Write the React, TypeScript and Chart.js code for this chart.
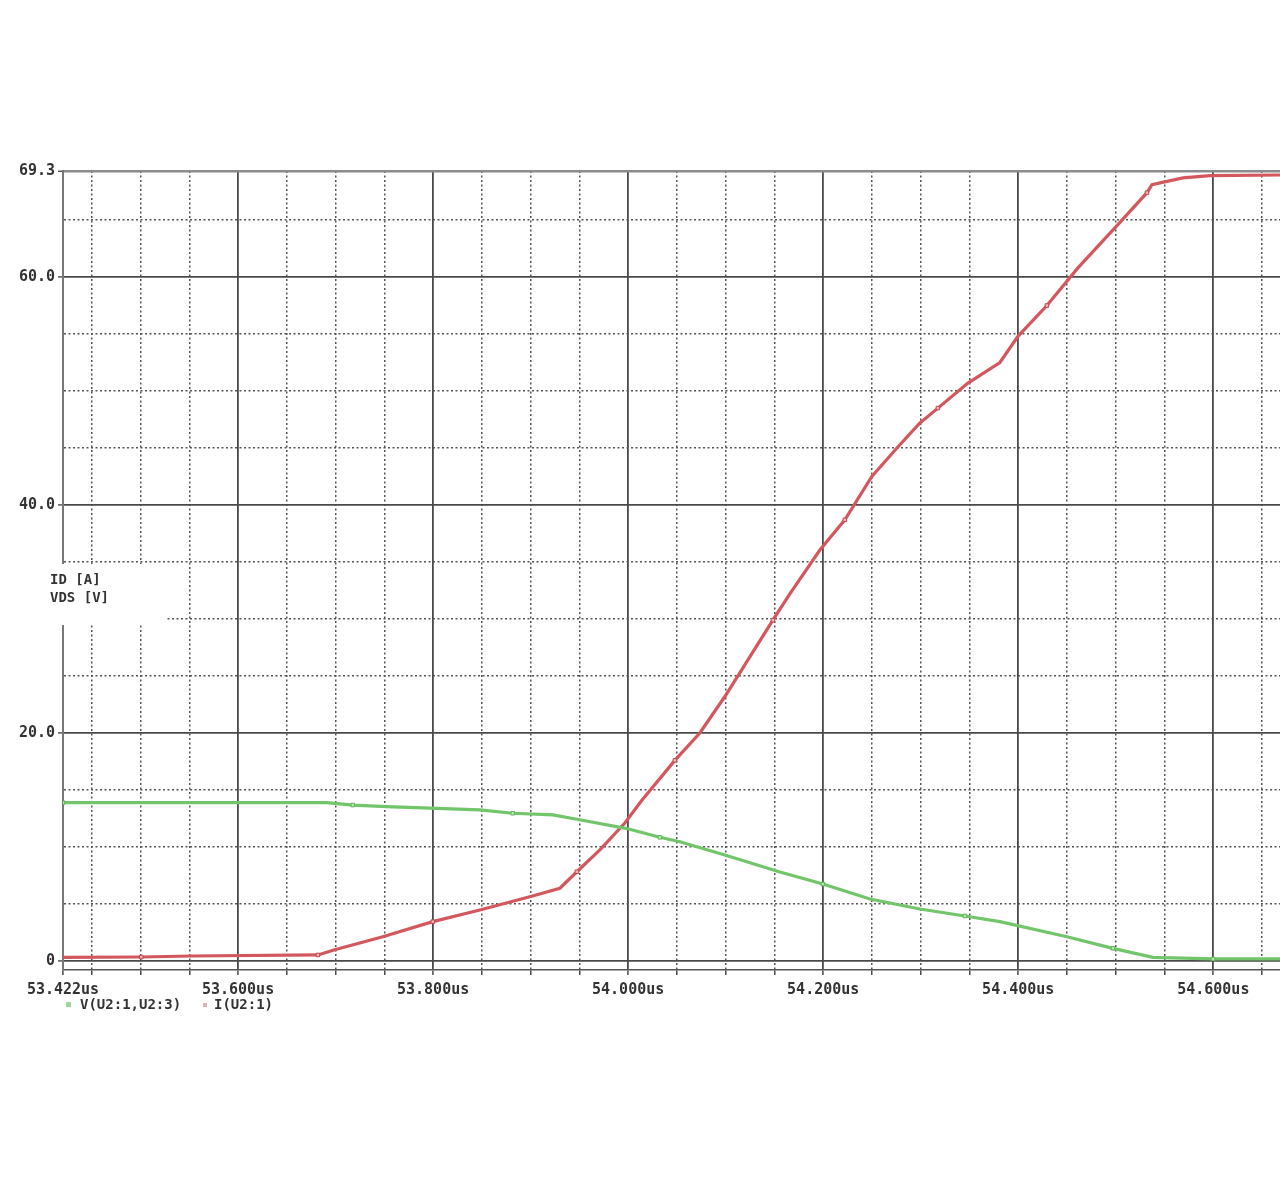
import { useEffect, useRef } from 'react';
import { Chart, registerables } from 'chart.js';

Chart.register(...registerables);

// ---- axis ranges ----
const X_MIN = 53.4205;
const X_MAX = 54.6684;
const Y_MIN = -0.79;
const Y_MAX = 69.3;

// ---- tick values / labels ----
const X_START_LABEL = '53.422us';
const X_MAJOR_TICKS = [53.6, 53.8, 54.0, 54.2, 54.4, 54.6];
const X_TICK_LABELS = ['53.600us', '53.800us', '54.000us', '54.200us', '54.400us', '54.600us'];
const X_MINOR_TICKS = [53.45, 53.5, 53.55, 53.65, 53.7, 53.75, 53.85, 53.9, 53.95, 54.05, 54.1, 54.15, 54.25, 54.3, 54.35, 54.45, 54.5, 54.55, 54.65];

const Y_MAJOR_TICKS = [0, 20, 40, 60, 69.3];
const Y_TICK_LABELS = ['0', '20.0', '40.0', '60.0', '69.3'];
const Y_MINOR_TICKS = [5, 10, 15, 25, 30, 35, 45, 50, 55, 65];

const AXIS_LABEL_LINES = ['ID [A]', 'VDS [V]'];
const SERIES_NAMES = ['V(U2:1,U2:3)', 'I(U2:1)'];

// ---- series: I(U2:1) (drain current) ----
const I_TIME = [
  53.4205, 53.5008, 53.5521, 53.6819, 53.6983, 53.7484, 53.7997, 53.8479, 53.8992, 53.93,
  53.9474, 53.971, 53.9966, 54.0141, 54.0479, 54.0735, 54.0992, 54.1484, 54.1658, 54.1966,
  54.2222, 54.2499, 54.2756, 54.2992, 54.3176, 54.3484, 54.3812, 54.3997, 54.4294, 54.4612,
  54.5043, 54.532, 54.5371, 54.5689, 54.5966, 54.6684,
];
const I_VALUES = [
  0.31, 0.35, 0.44, 0.53, 0.96, 2.13, 3.45, 4.47, 5.64, 6.38,
  7.83, 9.74, 12.1, 14.1, 17.6, 20.0, 23.2, 29.9, 32.2, 36.05,
  38.7, 42.5, 45.0, 47.2, 48.5, 50.7, 52.5, 54.8, 57.5, 60.8,
  64.8, 67.4, 68.1, 68.7, 68.9, 68.95,
];
const I_MARKER_INDEX = [1, 3, 6, 10, 14, 17, 20, 24, 28, 31];

// ---- series: V(U2:1,U2:3) (drain-source voltage) ----
const V_TIME = [
  53.4205, 53.691, 53.7177, 53.7525, 53.8479, 53.8817, 53.9228, 53.9474, 53.9976, 54.0325,
  54.053, 54.0992, 54.1556, 54.1997, 54.2479, 54.2992, 54.3453, 54.3812, 54.4499, 54.4971,
  54.5381, 54.5997, 54.6684,
];
const V_VALUES = [
  13.89, 13.89, 13.68, 13.54, 13.25, 12.96, 12.81, 12.43, 11.64, 10.85,
  10.46, 9.3, 7.81, 6.75, 5.44, 4.56, 3.95, 3.45, 2.13, 1.11,
  0.32, 0.18, 0.18,
];
const V_MARKER_INDEX = [0, 2, 5, 9, 13, 16, 19, 21];

const RED = '#d4575e';
const GREEN = '#72c56a';
const FONT = '"DejaVu Sans Mono", "Liberation Mono", monospace';

const near = (a: number, b: number) => Math.abs(a - b) < 1e-6;
const isMajorX = (v: number) => near(v, X_MIN) || X_MAJOR_TICKS.some((m) => near(m, v));
const isMajorY = (v: number) => Y_MAJOR_TICKS.some((m) => near(m, v));

export default function App() {
  const ref = useRef<HTMLCanvasElement | null>(null);

  useEffect(() => {
    const canvas = ref.current;
    if (!canvas) return;

    const overlay = {
      id: 'overlay',
      afterDraw(chart: any) {
        const ctx = chart.ctx as CanvasRenderingContext2D;
        ctx.save();
        // label box masking the grid
        ctx.fillStyle = '#ffffff';
        ctx.fillRect(0, 564, 167, 61);
        ctx.fillStyle = '#333333';
        ctx.font = `bold 14px ${FONT}`;
        ctx.textBaseline = 'middle';
        ctx.textAlign = 'left';
        ctx.fillText(AXIS_LABEL_LINES[0], 50, 580);
        ctx.fillText(AXIS_LABEL_LINES[1], 50, 598);
        // legend
        ctx.font = `bold 14px ${FONT}`;
        ctx.fillStyle = '#9ad694';
        ctx.fillRect(66, 1002, 5, 5);
        ctx.fillStyle = '#333333';
        ctx.fillText(SERIES_NAMES[0], 80, 1005);
        ctx.fillStyle = '#d8b4b4';
        ctx.fillRect(203, 1003, 4, 4);
        ctx.fillStyle = '#333333';
        ctx.fillText(SERIES_NAMES[1], 214, 1005);
        ctx.restore();
      },
    };

    const chart = new Chart(canvas, {
      type: 'line',
      data: {
        datasets: [
          {
            label: SERIES_NAMES[0],
            data: V_TIME.map((t, i) => ({ x: t, y: V_VALUES[i] })),
            borderColor: GREEN,
            borderWidth: 3.2,
            tension: 0,
            pointStyle: 'rect',
            pointRadius: (c: any) => (V_MARKER_INDEX.includes(c.dataIndex) ? 2.5 : 0),
            pointBackgroundColor: '#b8e6b2',
            pointBorderColor: '#5fb457',
            pointBorderWidth: 1,
          },
          {
            label: SERIES_NAMES[1],
            data: I_TIME.map((t, i) => ({ x: t, y: I_VALUES[i] })),
            borderColor: RED,
            borderWidth: 3.2,
            tension: 0,
            pointStyle: 'rect',
            pointRadius: (c: any) => (I_MARKER_INDEX.includes(c.dataIndex) ? 2.5 : 0),
            pointBackgroundColor: '#f2b8b8',
            pointBorderColor: '#c4474e',
            pointBorderWidth: 1,
          },
        ],
      },
      options: {
        responsive: false,
        animation: false,
        events: [],
        layout: { autoPadding: false, padding: { top: 171, bottom: 180, left: 0, right: 0 } },
        plugins: { legend: { display: false }, tooltip: { enabled: false }, title: { display: false } },
        scales: {
          x: {
            type: 'linear',
            min: X_MIN,
            max: X_MAX,
            afterBuildTicks: (scale: any) => {
              scale.ticks = [X_MIN, ...X_MAJOR_TICKS, ...X_MINOR_TICKS]
                .sort((a, b) => a - b)
                .map((v) => ({ value: v }));
            },
            afterFit: (scale: any) => {
              scale.height = 40;
            },
            ticks: {
              autoSkip: false,
              maxRotation: 0,
              minRotation: 0,
              padding: 6,
              color: '#333333',
              font: { family: FONT, size: 15, weight: 'bold' },
              callback: (value: any) => {
                const v = Number(value);
                if (near(v, X_MIN)) return X_START_LABEL;
                const idx = X_MAJOR_TICKS.findIndex((m) => near(m, v));
                return idx >= 0 ? X_TICK_LABELS[idx] : '';
              },
            },
            grid: {
              drawOnChartArea: true,
              drawTicks: true,
              tickLength: 5,
              color: (c: any) => (c.tick && isMajorX(c.tick.value) ? '#4a4a4a' : '#555555'),
              lineWidth: (c: any) => (c.tick && isMajorX(c.tick.value) ? 1.8 : 1.5),
              tickColor: '#4a4a4a',
              tickWidth: 1.5,
            },
            border: {
              display: true,
              color: '#555555',
              width: 1.6,
              dash: (c: any) => (c.tick && !isMajorX(c.tick.value) ? [2, 2.5] : []),
            },
          },
          y: {
            type: 'linear',
            min: Y_MIN,
            max: Y_MAX,
            afterBuildTicks: (scale: any) => {
              scale.ticks = [...Y_MAJOR_TICKS, ...Y_MINOR_TICKS]
                .sort((a, b) => a - b)
                .map((v) => ({ value: v }));
            },
            afterFit: (scale: any) => {
              scale.width = 63;
            },
            ticks: {
              autoSkip: false,
              padding: 3,
              color: '#333333',
              font: { family: FONT, size: 15, weight: 'bold' },
              callback: (value: any) => {
                const v = Number(value);
                const idx = Y_MAJOR_TICKS.findIndex((m) => near(m, v));
                return idx >= 0 ? Y_TICK_LABELS[idx] : '';
              },
            },
            grid: {
              drawOnChartArea: true,
              drawTicks: true,
              tickLength: 5,
              color: (c: any) => {
                if (!c.tick) return '#555555';
                if (near(c.tick.value, Y_MAX)) return '#8c8c8c';
                return isMajorY(c.tick.value) ? '#4a4a4a' : '#555555';
              },
              lineWidth: (c: any) => {
                if (!c.tick) return 1.5;
                if (near(c.tick.value, Y_MAX)) return 2.6;
                return isMajorY(c.tick.value) ? 1.8 : 1.5;
              },
              tickColor: (c: any) => (c.tick && isMajorY(c.tick.value) ? '#555555' : 'rgba(0,0,0,0)'),
              tickWidth: 1.5,
            },
            border: {
              display: true,
              color: '#777777',
              width: 2,
              dash: (c: any) => (c.tick && !isMajorY(c.tick.value) ? [2, 2.5] : []),
            },
          },
        },
      } as any,
      plugins: [overlay],
    });

    return () => chart.destroy();
  }, []);

  return (
    <div style={{ position: 'absolute', left: 0, top: 0, width: 1280, height: 1190, background: '#ffffff' }}>
      <canvas ref={ref} width={1280} height={1190} style={{ display: 'block' }} />
    </div>
  );
}
